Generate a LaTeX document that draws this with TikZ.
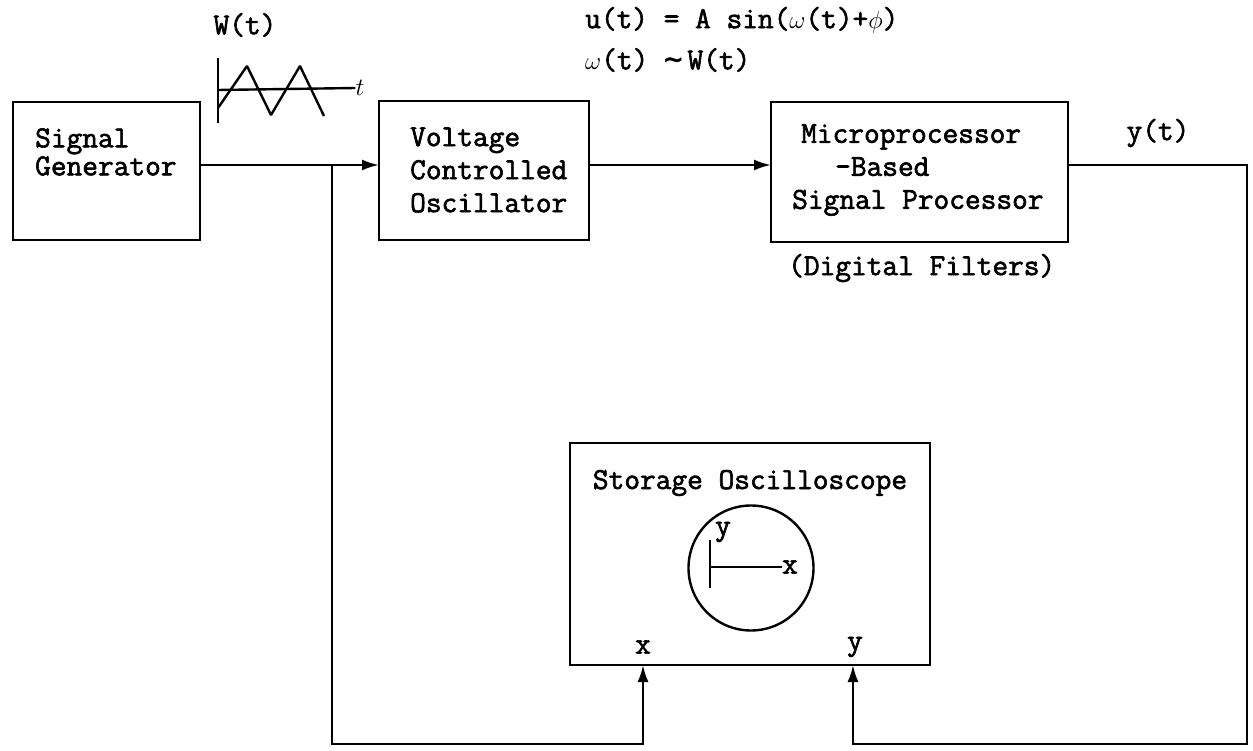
\documentclass[tikz,border=0pt]{standalone}
\usepackage{fontspec}
\newfontfamily\tw{Latin Modern Mono}[FakeBold=2]
\newfontfamily\dv{DejaVu Sans Mono}[FakeBold=1.2]
\usetikzlibrary{arrows.meta}
\begin{document}
\begin{tikzpicture}[x=1pt,y=-1pt,
  blk/.style={draw,line width=2.4pt,inner sep=0pt,outer sep=0pt},
  txt/.style={font=\tw\fontsize{30.5}{33}\selectfont,inner sep=0pt,align=left},
  ln/.style={line width=2.4pt},
  arr/.style={ln,-{Latex[length=17pt,width=11pt]}}]
\useasboundingbox (0,0) rectangle (1253,751);

% blocks
\node[blk,minimum width=187pt,minimum height=138pt] (sg) at (106.5,171) {};
\node[blk,minimum width=210pt,minimum height=139pt] (vco) at (484,170.5) {};
\node[blk,minimum width=297pt,minimum height=140pt] (mp) at (919.5,172) {};
\node[blk,minimum width=360pt,minimum height=222pt] (sc) at (750,554) {};
\node[blk,circle,minimum size=125pt] (scr) at (751,568) {};

% block texts
\node[txt,anchor=west,font=\tw\fontsize{30.5}{28}\selectfont] (sgt) at (35,152) {Signal\\Generator};
\node[txt,anchor=west] (vcot) at (410,170) {Voltage\\Controlled\\Oscillator};
\node[txt,anchor=west] (mpt) at (792,170) {\hspace*{9pt}Microprocessor\\\hspace*{43pt}-Based\\Signal Processor};
\node[txt,anchor=west] (dft) at (788,268) {(Digital Filters)};
\node[txt] (sct) at (750,483) {Storage Oscilloscope};

% labels
\node[txt] (wt) at (245,25) {W(t)};
\node[txt,anchor=west] (ut) at (585,20) {u(t) = A sin($\omega$(t)+$\phi$)};
\node[txt,anchor=west] (wdef) at (585,60) {$\omega$(t) {\dv ∼}\,W(t)};
\node[txt] (yt) at (1158,133) {y(t)};
\node[txt] (xin) at (643,647) {x};
\node[txt] (yin) at (855,647) {y};
\node[txt] (ix) at (790,567) {x};
\node[txt] (iy) at (723,532) {y};
\node[inner sep=0pt,font=\fontsize{28}{30}\selectfont] (tl) at (360,88) {$t$};

% waveform sketch
\draw[ln] (218,58) -- (218,123);
\draw[ln] (218,90) -- (tl.west);
\draw[ln,line join=bevel] (218,108) -- (247,66) -- (271,115) -- (300,66) -- (324,116);

% screen axes
\draw[ln] (710,540) -- (710,588);
\draw[ln] (710,567) -- (ix.west);

% connectors
\coordinate (main) at (0,165);
\coordinate (bot) at (0,744);
\coordinate (br) at (332,165);
\coordinate (rc) at (1247,744);
\coordinate (px) at (643,665);
\coordinate (py) at (853,665);
\draw[arr] (sg.east |- main) -- (vco.west |- main);
\draw[arr] (vco.east |- main) -- (mp.west |- main);
\draw[arr] (br) |- (px |- bot) -- (px);
\draw[arr] (mp.east |- main) -| (rc) -| (py);
\end{tikzpicture}
\end{document}
